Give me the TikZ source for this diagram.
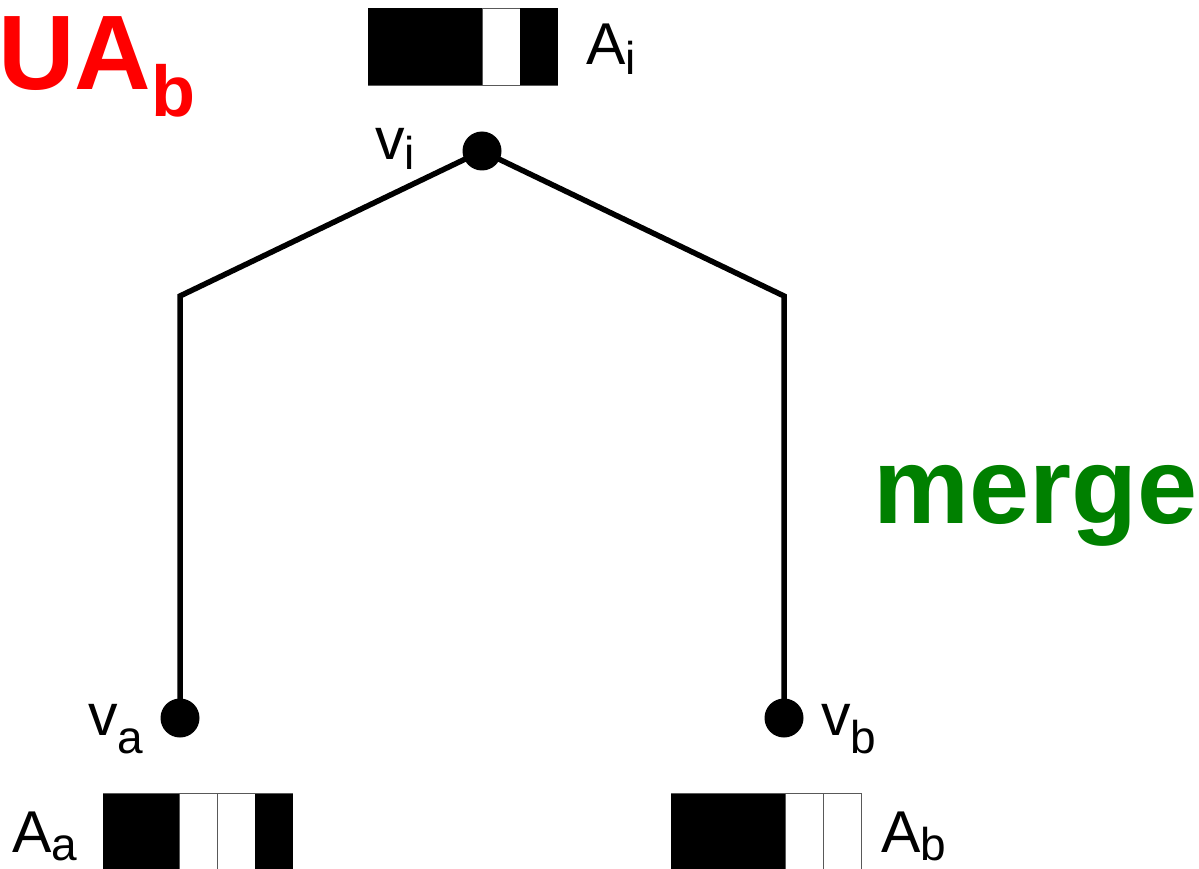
\documentclass[tikz,border=0pt]{standalone}
\usepackage{fontspec}
\setmainfont{Liberation Sans}
\definecolor{mergegreen}{RGB}{0,128,0}
\newcommand{\lbl}[3]{{\fontsize{59}{62}\selectfont #1\raisebox{-#3pt}{\fontsize{46}{48}\selectfont #2}}}
\begin{document}
\begin{tikzpicture}[x=1pt,y=-1pt,
  cell/.style={line width=0.8pt, minimum width=38pt, minimum height=77pt,
               inner sep=0pt, outer sep=0pt, anchor=north west},
  one/.style={cell, fill=black},
  zero/.style={cell, fill=white, draw=gray!70!black},
  rim/.style={draw=gray!70!black, line width=0.8pt},
  vertex/.style={circle, fill=black, minimum size=39pt, inner sep=0pt},
  edge/.style={line width=5.5pt, line join=miter},
  txt/.style={anchor=base west, inner sep=0pt}]
\useasboundingbox (0,0) rectangle (1199,869);

% bit arrays: black cells merge, white cells keep a thin outline
\foreach \b [count=\k from 0] in {one,one,one,zero,one}
  \node[\b] (ai\k) at (368+38*\k, 8) {};
\foreach \b [count=\k from 0] in {one,one,zero,zero,one}
  \node[\b] (aa\k) at (103+38*\k, 793) {};
\foreach \b [count=\k from 0] in {one,one,one,zero,zero}
  \node[\b] (ab\k) at (671+38*\k, 793) {};
\draw[rim] (ai0.south west) -- (ai4.south east);
\draw[rim] (aa0.north west) -- (aa4.north east);
\draw[rim] (ab0.north west) -- (ab4.north east);

% tree
\node[vertex] (vi) at (482,151) {};
\node[vertex] (va) at (180,718) {};
\node[vertex] (vb) at (784,718) {};
\coordinate (cl) at (180,296);
\coordinate (cr) at (784,296);
\draw[edge] (vi.center) -- (cl) -- (va.center);
\draw[edge] (vi.center) -- (cr) -- (vb.center);

% labels
\node[txt] (lvi) at (375,160) {\lbl{v}{i}{10}};
\node[txt] (lva) at (88,735) {\lbl{v}{a}{18}};
\node[txt] (lvb) at (821,735) {\lbl{v}{b}{18}};
\node[txt] (lai) at (586,65) {\lbl{A}{i}{10}};
\node[txt] (laa) at (12,852) {\lbl{A}{a}{8}};
\node[txt] (lab) at (881,852) {\lbl{A}{b}{8}};

\node[txt, text=red] (title) at (-2,90)
  {\bfseries\fontsize{106}{110}\selectfont UA\raisebox{-27pt}{\fontsize{72}{74}\selectfont b}};
\node[txt, text=mergegreen] (merge) at (873,523)
  {\bfseries\fontsize{108}{110}\selectfont merge};
\end{tikzpicture}
\end{document}
